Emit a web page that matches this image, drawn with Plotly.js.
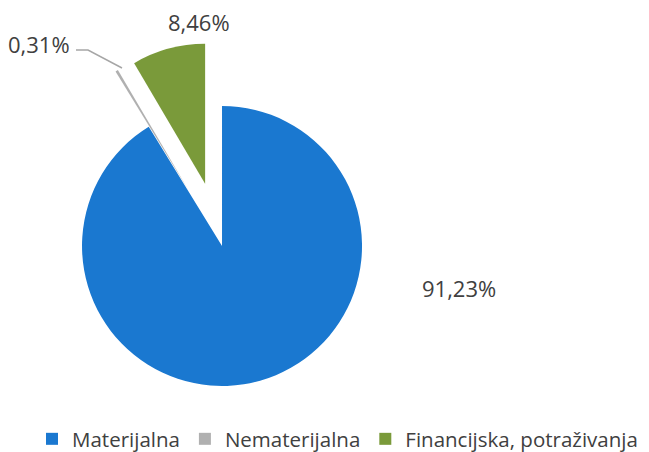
<!DOCTYPE html>
<html>
<head>
<meta charset="utf-8">
<script src="https://cdn.plot.ly/plotly-3.0.1.min.js"></script>
<style>html,body{margin:0;padding:0;background:#fff;}#chart{width:649px;height:452px;}</style>
</head>
<body>
<div id="chart"></div>
<script>
const categories = ["Materijalna", "Nematerijalna", "Financijska, potraživanja"];
const shares = [91.23, 0.31, 8.46];
const sliceColors = ["#1a78d0", "#b0b0b0", "#7a9a3a"];
const pulls = [0, 0.46, 0.46];

function fmt(v) { return v.toFixed(2).replace(".", ",") + "%"; }

const W = 649, H = 452;
function px(x) { return x / W; }
function py(y) { return 1 - y / H; }

const labelFont = {family: "Open Sans, sans-serif", size: 22, color: "#404040"};

const trace = {
  type: "pie",
  labels: categories,
  values: shares,
  sort: false,
  direction: "clockwise",
  rotation: 0,
  pull: pulls,
  textinfo: "none",
  hoverinfo: "label+percent",
  marker: {colors: sliceColors, line: {width: 0}},
  domain: {x: [0.0271, 0.6571], y: [0.0036, 0.908]}
};

const layout = {
  width: W, height: H,
  margin: {l: 0, r: 0, t: 0, b: 0, autoexpand: false},
  paper_bgcolor: "#ffffff",
  font: {family: "Open Sans, sans-serif", color: "#404040"},
  showlegend: true,
  legend: {
    orientation: "h",
    x: px(32), xanchor: "left",
    y: py(439), yanchor: "middle",
    font: {family: "Open Sans, sans-serif", size: 20.5, color: "#404040"},
    traceorder: "normal",
    itemclick: false
  },
  annotations: [
    {text: fmt(shares[1]), x: px(72), y: py(44), xref: "paper", yref: "paper", xanchor: "right", yanchor: "middle", showarrow: false, font: labelFont},
    {text: fmt(shares[2]), x: px(199), y: py(22), xref: "paper", yref: "paper", xanchor: "center", yanchor: "middle", showarrow: false, font: labelFont},
    {text: fmt(shares[0]), x: px(459), y: py(288), xref: "paper", yref: "paper", xanchor: "center", yanchor: "middle", showarrow: false, font: labelFont}
  ],
  shapes: [
    {type: "path", xref: "paper", yref: "paper",
     path: "M " + px(76) + "," + py(50) + " L " + px(88) + "," + py(50) + " L " + px(122) + "," + py(68),
     line: {color: "#a6a6a6", width: 1.5}}
  ]
};

Plotly.newPlot("chart", [trace], layout, {displayModeBar: false, staticPlot: true});
</script>
</body>
</html>
